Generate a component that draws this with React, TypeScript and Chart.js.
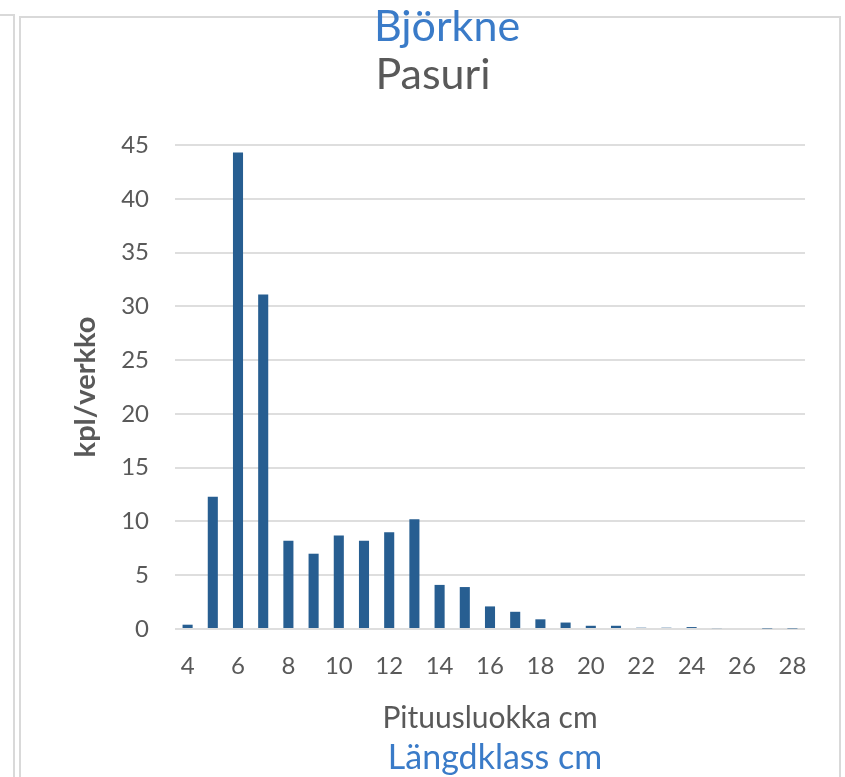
import React, { useEffect, useRef } from "react";
import { Chart, registerables } from "chart.js";

Chart.register(...registerables);

const categories: string[] = ["4","5","6","7","8","9","10","11","12","13","14","15","16","17","18","19","20","21","22","23","24","25","26","27","28"];
const values: number[] = [0.4, 12.3, 44.3, 31.1, 8.2, 7.0, 8.7, 8.2, 9.0, 10.2, 4.1, 3.9, 2.1, 1.6, 0.9, 0.6, 0.3, 0.3, 0.12, 0.12, 0.18, 0.08, 0, 0.05, 0.05];
const titleSv = "Björkne";
const titleFi = "Pasuri";
const xTitleFi = "Pituusluokka cm";
const xTitleSv = "Längdklass cm";
const yTitle = "kpl/verkko";

const FONT = "Lato, 'Open Sans', sans-serif";
const GRAY = "#595959";
const BLUE = "#3a7bc8";

const decorPlugin = {
  id: "decor",
  beforeDraw(chart: any) {
    const ctx = chart.ctx;
    ctx.save();
    ctx.strokeStyle = "#d9d9d9";
    ctx.lineWidth = 2;
    ctx.beginPath();
    ctx.moveTo(0, 15);
    ctx.lineTo(14, 15);
    ctx.lineTo(14, 777);
    ctx.moveTo(20, 777);
    ctx.lineTo(20, 17);
    ctx.lineTo(840, 17);
    ctx.lineTo(840, 777);
    ctx.stroke();
    ctx.restore();
  },
  afterDraw(chart: any) {
    const ctx = chart.ctx;
    ctx.save();
    ctx.textAlign = "center";
    ctx.textBaseline = "middle";
    ctx.font = `43px ${FONT}`;
    ctx.fillStyle = BLUE;
    ctx.fillText(titleSv, 447, 27);
    ctx.fillStyle = GRAY;
    ctx.fillText(titleFi, 433, 75);
    ctx.font = `34px ${FONT}`;
    ctx.fillStyle = BLUE;
    ctx.fillText(xTitleSv, 495, 758);
    ctx.restore();
  },
};

export default function App() {
  const ref = useRef<HTMLCanvasElement | null>(null);
  useEffect(() => {
    if (!ref.current) return;
    const chart = new Chart(ref.current, {
      type: "bar",
      data: {
        labels: categories,
        datasets: [
          {
            data: values,
            backgroundColor: "#275e91",
            borderWidth: 0,
            categoryPercentage: 1,
            barPercentage: 0.4,
          },
        ],
      },
      options: {
        animation: false,
        responsive: false,
        layout: { padding: { top: 145, right: 40, bottom: 0, left: 0 } },
        plugins: { legend: { display: false }, tooltip: { enabled: false }, title: { display: false } },
        scales: {
          x: {
            grid: { display: false, drawTicks: false },
            border: { display: false },
            ticks: {
              autoSkip: false,
              maxRotation: 0,
              minRotation: 0,
              padding: 23,
              color: GRAY,
              font: { family: FONT, size: 24 },
              callback: (_v: any, i: number) => (i % 2 === 0 ? categories[i] : ""),
            },
            title: {
              display: true,
              text: xTitleFi,
              color: GRAY,
              font: { family: FONT, size: 30 },
              padding: { top: 0, bottom: 41 },
            },
            afterFit: (s: any) => {
              s.height = 148;
            },
          },
          y: {
            min: 0,
            max: 45,
            ticks: {
              stepSize: 5,
              padding: 26,
              color: GRAY,
              font: { family: FONT, size: 24 },
            },
            grid: { color: "#dedede", lineWidth: 2, drawTicks: false },
            border: { display: false },
            title: {
              display: true,
              text: yTitle,
              color: GRAY,
              font: { family: FONT, size: 29, weight: "bold" as any },
              padding: { top: 68, bottom: 0 },
            },
            afterFit: (s: any) => {
              s.width = 175;
            },
          },
        },
      },
      plugins: [decorPlugin],
    });
    return () => chart.destroy();
  }, []);
  return (
    <div style={{ position: "absolute", left: 0, top: 0, width: 845, height: 777, background: "#fff" }}>
      <canvas ref={ref} width={845} height={777} style={{ display: "block", width: 845, height: 777 }} />
    </div>
  );
}
